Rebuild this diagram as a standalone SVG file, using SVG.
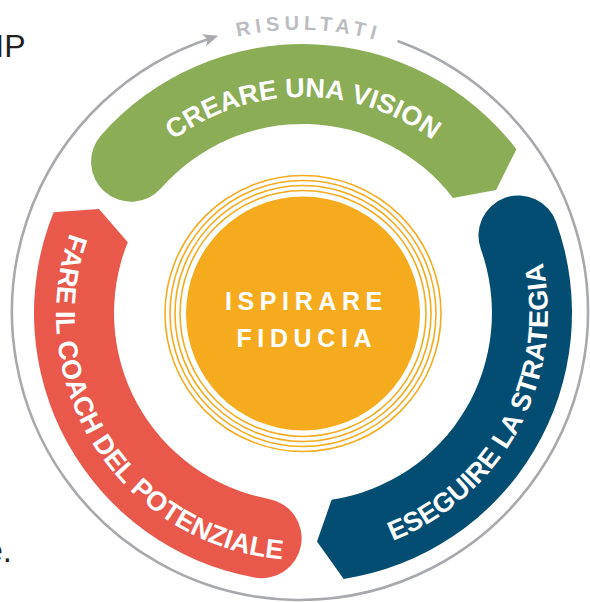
<svg xmlns="http://www.w3.org/2000/svg" width="590" height="602" viewBox="0 0 590 602">
  <style>
    .band-text { font-family: "Liberation Sans", Arial, sans-serif; font-weight: bold; font-size: 27px; fill: #ffffff; }
    .core-text { font-family: "Liberation Sans", Arial, sans-serif; font-weight: bold; font-size: 25px; fill: #ffffff; letter-spacing: 5.6px; }
    .ring { fill: none; stroke: #f6ab1e; stroke-width: 1.6; }
    .page-text { font-family: "Liberation Sans", Arial, sans-serif; fill: #231f20; }
  </style>
  <defs>
    <marker id="arrow" markerUnits="userSpaceOnUse" markerWidth="20" markerHeight="20" refX="0" refY="0" viewBox="-10 -10 20 20" orient="auto">
      <path d="M7,0 L-8,-6.5 L-4,0 L-8,6.5 Z" fill="#a7a9ac"/>
    </marker>
    <path id="p-green" d="M 87 313 A 216 216 0 0 1 519 313"/>
    <path id="p-red" d="M 207.3 88.5 A 245 245 0 1 0 470.1 492.2"/>
    <path id="p-blue" d="M 151.1 505.3 A 245 245 0 1 0 379.9 80.4"/>
    <path id="p-result" d="M 21 352.7 A 282 282 0 1 1 576.1 369.2"/>
  </defs>

  <rect width="590" height="602" fill="#ffffff"/>

  <text class="page-text" x="25.5" y="57" font-size="32" text-anchor="end">IP</text>
  <text class="page-text" x="12" y="561.5" font-size="33" text-anchor="end">e.</text>

  <g id="connectors">
    <path d="M 397.5 41 A 288 288 0 1 1 211.5 37.9" fill="none" stroke="#a7a9ac" stroke-width="2.6" marker-end="url(#arrow)"/>
    <text font-family="Liberation Sans, Arial, sans-serif" font-weight="bold" font-size="20" fill="#bbbdc0" letter-spacing="4.8" text-anchor="middle">
      <textPath href="#p-result" startOffset="50%">RISULTATI</textPath>
    </text>
  </g>

  <g id="node-vision">
    <path d="M 100.9 135.5 A 269 269 0 0 1 516.4 149.2 L 496.1 190 L 452.9 197.9 A 189 189 0 0 0 161 188.3 A 40 40 0 0 1 100.9 135.5 Z" fill="#8aad56"/>
    <text class="band-text" text-anchor="middle"><textPath href="#p-green" startOffset="50%">CREARE UNA VISION</textPath></text>
  </g>

  <g id="node-coach">
    <path d="M 254.4 577.6 A 269 269 0 0 1 53.6 212.2 L 99 209 L 127.8 242.2 A 189 189 0 0 0 268.9 498.9 A 40 40 0 0 1 254.4 577.6 Z" fill="#e8584b"/>
    <text class="band-text" text-anchor="middle"><textPath href="#p-red" startOffset="50%">FARE IL COACH DEL POTENZIALE</textPath></text>
  </g>

  <g id="node-strategy">
    <path d="M 556.1 221.9 A 269 269 0 0 1 343.7 578.9 L 317 541.6 L 331.6 499.8 A 189 189 0 0 0 480.8 249 A 40 40 0 0 1 556.1 221.9 Z" fill="#034d73"/>
    <text class="band-text" text-anchor="middle"><textPath href="#p-blue" startOffset="50%">ESEGUIRE LA STRATEGIA</textPath></text>
  </g>

  <g id="node-trust">
    <circle class="ring" cx="303" cy="313.5" r="138"/>
    <circle class="ring" cx="303" cy="313.5" r="133"/>
    <circle class="ring" cx="303" cy="313.5" r="128"/>
    <circle class="ring" cx="303" cy="313.5" r="123"/>
    <circle cx="303" cy="313.5" r="117" fill="#f6ab1e"/>
    <text class="core-text" x="225" y="310">ISPIRARE</text>
    <text class="core-text" x="236.5" y="346.5">FIDUCIA</text>
  </g>
</svg>
